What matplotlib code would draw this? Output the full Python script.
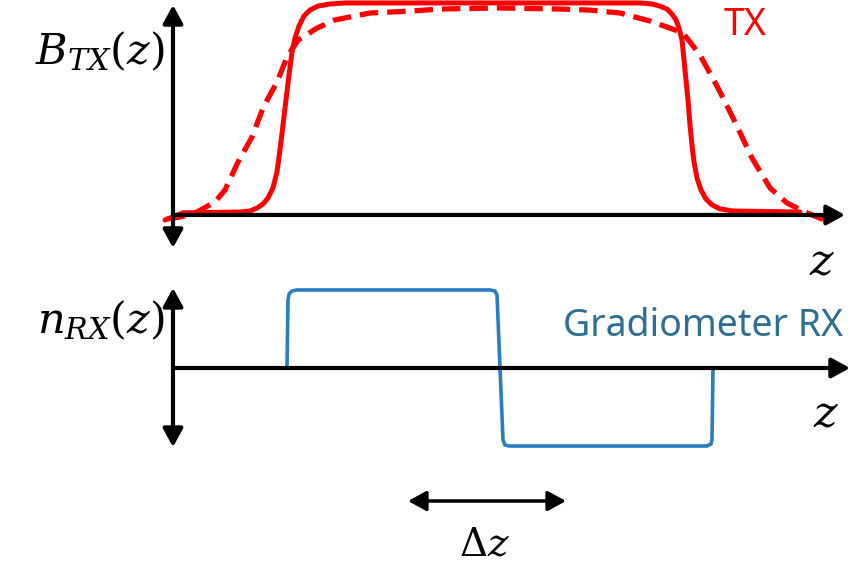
import matplotlib
matplotlib.use("Agg")
import matplotlib.pyplot as plt

plt.rcParams["mathtext.fontset"] = "dejavuserif"
plt.rcParams["font.family"] = ["Noto Sans", "DejaVu Sans"]

# TX field profile, solid (narrow coil) and dashed (wide coil)
z_tx_solid = [-0.08, 0.10, 0.67, 0.77, 0.84, 0.90, 0.95, 1.00, 1.04, 1.07, 1.10, 1.13, 1.16, 1.19, 1.22,
              1.26, 1.31, 1.37, 1.45, 1.57, 1.72, 3.27, 4.67, 4.79, 4.87, 4.94, 4.99, 5.03, 5.06, 5.09,
              5.11, 5.13, 5.15, 5.17, 5.19, 5.21, 5.24, 5.28, 5.33, 5.39, 5.47, 5.60, 6.27]
b_tx_solid = [-0.024, 0.010, 0.014, 0.019, 0.033, 0.052, 0.081, 0.129, 0.205, 0.310, 0.429, 0.548, 0.667,
              0.776, 0.843, 0.900, 0.948, 0.976, 0.995, 1.005, 1.010, 1.010, 1.010, 1.005, 0.995, 0.981,
              0.957, 0.929, 0.890, 0.833, 0.738, 0.643, 0.548, 0.429, 0.333, 0.252, 0.176, 0.119, 0.076,
              0.048, 0.029, 0.019, 0.014]

z_tx_dash = [-0.06, 0.07, 0.24, 0.42, 0.52, 0.65, 0.79, 0.90, 1.04, 1.14, 1.25, 1.44, 1.62, 1.97, 2.37,
             2.67, 3.27, 3.87, 4.17, 4.47, 4.77, 4.97, 5.10, 5.27, 5.45, 5.62, 5.79, 5.97, 6.14, 6.32, 6.54]
b_tx_dash = [-0.019, -0.010, 0.014, 0.062, 0.119, 0.252, 0.371, 0.510, 0.633, 0.752, 0.833, 0.890, 0.929,
             0.962, 0.971, 0.981, 0.986, 0.981, 0.976, 0.962, 0.924, 0.890, 0.867, 0.762, 0.605, 0.443,
             0.271, 0.129, 0.057, 0.014, -0.029]

# gradiometer receive sensitivity
z_rx = [1.14, 1.15, 1.16, 1.19, 1.24, 3.17, 3.22, 3.24, 3.30, 3.32, 3.36, 5.34, 5.38, 5.39, 5.40]
n_rx = [0.0, 0.872, 0.949, 0.987, 1.0, 1.0, 0.987, 0.936, -0.923, -0.987, -1.0, -1.0, -0.974, -0.923, 0.0]

dz_start, dz_end = 2.35, 3.93

fig = plt.figure(figsize=(8.52, 5.66), dpi=100)
ax1 = fig.add_axes([0, 1 - 258 / 566, 1, 258 / 566])
ax2 = fig.add_axes([0, 0, 1, 308 / 566])
ax1.set_xlim(-1.73, 6.79)
ax1.set_ylim(-0.205, 1.024)
ax2.set_xlim(-1.73, 6.79)
ax2.set_ylim(-2.538, 1.410)
for ax in (ax1, ax2):
    ax.axis("off")

arrow = dict(arrowstyle="-|>,head_length=0.55,head_width=0.3", lw=3.0, color="black",
             shrinkA=0, shrinkB=0, mutation_scale=20)
arrow2 = dict(arrow, arrowstyle="<|-|>,head_length=0.55,head_width=0.3")

# top panel
ax1.plot(z_tx_solid, b_tx_solid, color="#ff0000", lw=3.6, solid_joinstyle="round",
         solid_capstyle="round", zorder=3)
ax1.plot(z_tx_dash, b_tx_dash, color="#ff0000", lw=3.8, dashes=(3.5, 1.7), zorder=3)
ax1.annotate("", xy=(0, 1.0), xytext=(0, -0.157), arrowprops=arrow2, annotation_clip=False)
ax1.annotate("", xy=(6.72, 0), xytext=(0, 0), arrowprops=arrow, annotation_clip=False)
ax1.text(-0.08, 0.72, r"$B_{TX}(z)$", fontsize=31, ha="right", va="baseline")
ax1.text(5.72, 0.905, "TX", color="#ff0000", fontsize=27, ha="center", va="center")
ax1.text(6.49, -0.229, r"$z$", fontsize=32, ha="center", va="center")

# bottom panel
ax2.plot(z_rx, n_rx, color="#2a7dc0", lw=2.6, solid_joinstyle="round", zorder=3)
ax2.annotate("", xy=(0, 1.026), xytext=(0, -1.013), arrowprops=arrow2, annotation_clip=False)
ax2.annotate("", xy=(6.77, 0), xytext=(0, 0), arrowprops=arrow, annotation_clip=False)
ax2.text(-0.08, 0.45, r"$n_{RX}(z)$", fontsize=31, ha="right", va="baseline")
ax2.text(6.70, 0.538, "Gradiometer RX", color="#2f6e94", fontsize=27, ha="right", va="center")
ax2.text(6.53, -0.603, r"$z$", fontsize=32, ha="center", va="center")

# delta z
ax2.annotate("", xy=(dz_end, -1.705), xytext=(dz_start, -1.705), arrowprops=dict(arrow2, lw=2.5),
             annotation_clip=False)
ax2.text(3.11, -2.27, r"$\Delta z$", fontsize=28, ha="center", va="center")

fig.savefig("out.png", dpi=100)
